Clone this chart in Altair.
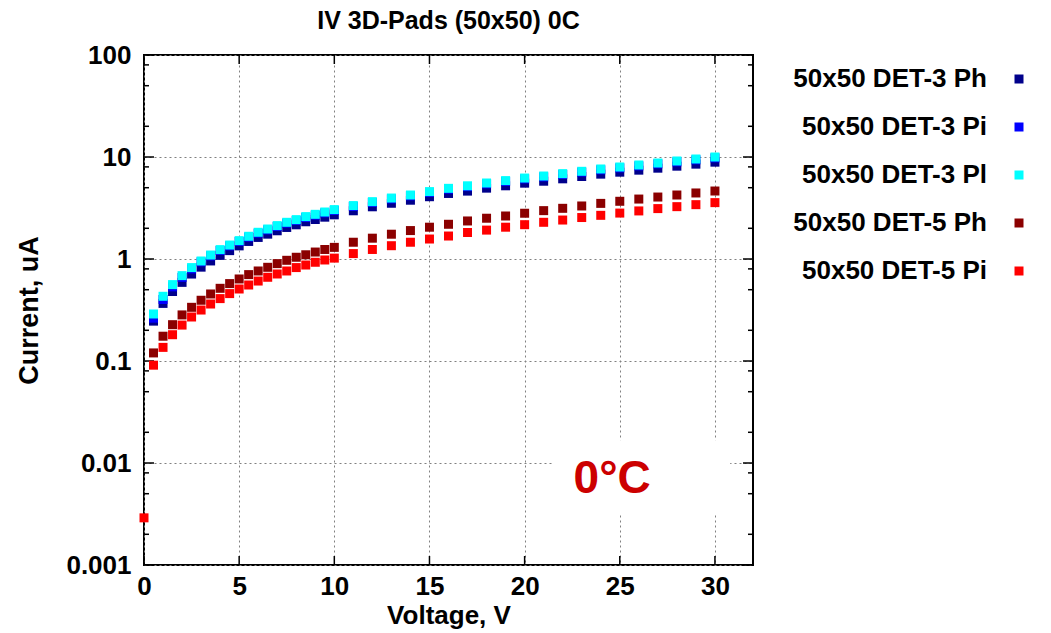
import altair as alt
import pandas as pd

# ---------------- data ----------------
voltage = [0.0, 0.5, 1.0, 1.5, 2.0, 2.5, 3.0, 3.5, 4.0, 4.5, 5.0, 5.5, 6.0, 6.5, 7.0,
           7.5, 8.0, 8.5, 9.0, 9.5, 10.0, 11, 12, 13, 14, 15, 16, 17, 18, 19, 20,
           21, 22, 23, 24, 25, 26, 27, 28, 29, 30]

det3_ph = [None, 0.246, 0.367, 0.480, 0.590, 0.712, 0.832, 0.957, 1.085, 1.208, 1.345,
           1.486, 1.627, 1.752, 1.891, 2.038, 2.164, 2.318, 2.440, 2.571, 2.71,
           2.97, 3.25, 3.52, 3.77, 4.08, 4.39, 4.63, 4.95, 5.22, 5.54,
           5.79, 6.11, 6.44, 6.79, 7.10, 7.43, 7.77, 8.13, 8.51, 8.90]
det3_pi = [None, 0.263, 0.401, 0.533, 0.660, 0.799, 0.937, 1.072, 1.211, 1.344, 1.484,
           1.637, 1.791, 1.929, 2.083, 2.244, 2.383, 2.552, 2.687, 2.831, 2.99,
           3.27, 3.58, 3.88, 4.16, 4.49, 4.83, 5.12, 5.45, 5.75, 6.10,
           6.38, 6.73, 7.10, 7.48, 7.82, 8.18, 8.56, 8.96, 9.37, 9.80]
det3_pl = [None, 0.289, 0.431, 0.561, 0.687, 0.824, 0.956, 1.094, 1.236, 1.371, 1.514,
           1.670, 1.828, 1.968, 2.125, 2.290, 2.432, 2.604, 2.742, 2.889, 3.05,
           3.34, 3.65, 3.96, 4.24, 4.58, 4.93, 5.22, 5.56, 5.87, 6.22,
           6.51, 6.87, 7.24, 7.63, 7.98, 8.35, 8.73, 9.14, 9.56, 10.0]
det5_ph = [None, 0.120, 0.175, 0.227, 0.283, 0.336, 0.394, 0.454, 0.516, 0.574, 0.637,
           0.703, 0.763, 0.829, 0.901, 0.971, 1.04, 1.10, 1.17, 1.24, 1.30,
           1.46, 1.60, 1.75, 1.90, 2.05, 2.19, 2.36, 2.51, 2.64, 2.81,
           2.98, 3.14, 3.31, 3.51, 3.68, 3.87, 4.05, 4.24, 4.44, 4.64]
det5_pi = [0.0029, 0.091, 0.136, 0.181, 0.225, 0.270, 0.316, 0.362, 0.409, 0.458, 0.508,
           0.556, 0.608, 0.662, 0.713, 0.763, 0.824, 0.873, 0.929, 0.978, 1.02,
           1.13, 1.24, 1.35, 1.46, 1.57, 1.68, 1.82, 1.92, 2.05, 2.17,
           2.29, 2.41, 2.55, 2.68, 2.82, 2.96, 3.12, 3.26, 3.41, 3.57]

series_names = ["50x50 DET-3 Ph", "50x50 DET-3 Pi", "50x50 DET-3 Pl",
                "50x50 DET-5 Ph", "50x50 DET-5 Pi"]
series_values = [det3_ph, det3_pi, det3_pl, det5_ph, det5_pi]
series_colors = ["#00008b", "#0000ff", "#00ffff", "#8b0000", "#ff0000"]

x_ticks = [0, 5, 10, 15, 20, 25, 30]
y_major = [0.001, 0.01, 0.1, 1, 10, 100]
y_minor = [0.002, 0.005, 0.008, 0.02, 0.05, 0.08, 0.2, 0.5, 0.8,
           2, 5, 8, 20, 50, 80]

x_domain = [0, 32]
y_domain = [0.001, 100]

title_text = "IV 3D-Pads (50x50) 0C"
note_text = "0°C"
note_pos = [24.6, 0.0070]
note_box = [21.45, 30.8, 0.0031, 0.0167]

# ---------------- build tables ----------------
rows = []
for k, (name, vals) in enumerate(zip(series_names, series_values)):
    for v, c in zip(voltage, vals):
        if c is not None:
            rows.append({"V": v, "I": c, "series": name, "ord": k})
df = pd.DataFrame(rows)

W, H = 609, 510
FONT = "Liberation Sans"

xs = alt.Scale(domain=x_domain, nice=False, zero=False)
ys = alt.Scale(type="log", domain=y_domain, nice=False)

x_axis = alt.Axis(values=x_ticks, title="Voltage, V", ticks=False, domain=False,
                  labelFontSize=26, labelFontWeight="bold", labelPadding=8,
                  labelFlush=False,
                  titleFontSize=26, titleFontWeight="bold", titlePadding=3,
                  grid=True, gridDash=[2, 3], gridColor="#808080", gridWidth=1,
                  labelFont=FONT, titleFont=FONT, labelColor="black",
                  titleColor="black")
y_axis = alt.Axis(values=y_major, format="~g", title="Current, uA", ticks=False,
                  domain=False, labelFontSize=26, labelFontWeight="bold",
                  labelPadding=13, labelFlush=False, titleFontSize=27,
                  titleFontWeight="bold", titlePadding=22, grid=True, gridDash=[2, 3],
                  gridColor="#808080", gridWidth=1, labelFont=FONT,
                  titleFont=FONT, labelColor="black", titleColor="black")

points = alt.Chart(df).mark_square(size=81, opacity=1, strokeWidth=0).encode(
    x=alt.X("V:Q", scale=xs, axis=x_axis),
    y=alt.Y("I:Q", scale=ys, axis=y_axis),
    color=alt.Color("series:N",
                    scale=alt.Scale(domain=series_names, range=series_colors),
                    legend=alt.Legend(title=None, orient="none", legendX=862, legendY=11,
                                      symbolType="square", symbolSize=81,
                                      symbolStrokeWidth=0, symbolOpacity=1,
                                      labelFontSize=26, labelFontWeight="bold",
                                      labelFont=FONT, labelColor="black",
                                      labelAlign="right",
                                      labelOffset={"expr": "-45"},
                                      rowPadding=22, labelLimit=400)),
    order=alt.Order("ord:Q"),
)

xt = pd.DataFrame({"v": x_ticks})
ymaj = pd.DataFrame({"v": y_major})
ymin = pd.DataFrame({"v": y_minor})

def xrule(y0, y1):
    return alt.Chart(xt).mark_rule(color="black", strokeWidth=1.5).encode(
        x=alt.X("v:Q", scale=xs, axis=x_axis),
        y=alt.value(y0), y2=alt.value(y1))

def yrule(data, x0, x1):
    return alt.Chart(data).mark_rule(color="black", strokeWidth=1.5).encode(
        y=alt.Y("v:Q", scale=ys, axis=y_axis),
        x=alt.value(x0), x2=alt.value(x1))

box = alt.Chart(pd.DataFrame({"x": [note_box[0]], "x2": [note_box[1]],
                              "y": [note_box[2]], "y2": [note_box[3]]})).mark_rect(
    color="white").encode(
    x=alt.X("x:Q", scale=xs, axis=x_axis), x2="x2:Q",
    y=alt.Y("y:Q", scale=ys, axis=y_axis), y2="y2:Q")

note = alt.Chart(pd.DataFrame({"x": [note_pos[0]], "y": [note_pos[1]],
                               "t": [note_text]})).mark_text(
    font=FONT, fontSize=46, fontWeight="bold", color="#cc0000",
    align="center", baseline="middle").encode(
    x=alt.X("x:Q", scale=xs, axis=x_axis),
    y=alt.Y("y:Q", scale=ys, axis=y_axis),
    text="t:N")

chart = alt.layer(
    box, note,
    xrule(H, H - 9), xrule(0, 9),
    yrule(ymaj, 0, 10), yrule(ymaj, W, W - 10),
    yrule(ymin, 0, 5), yrule(ymin, W, W - 5),
    points,
).properties(
    width=W, height=H,
    background="white",
    title=alt.TitleParams(title_text, font=FONT, fontSize=25, fontWeight="bold",
                          color="black", anchor="middle", offset=8),
    autosize=alt.AutoSizeParams(type="none"),
    padding={"left": 144, "top": 55, "right": 298, "bottom": 68},
).configure_view(
    stroke="black", strokeWidth=2
)

chart.save("out.html", embed_options={"renderer": "svg", "actions": False})
